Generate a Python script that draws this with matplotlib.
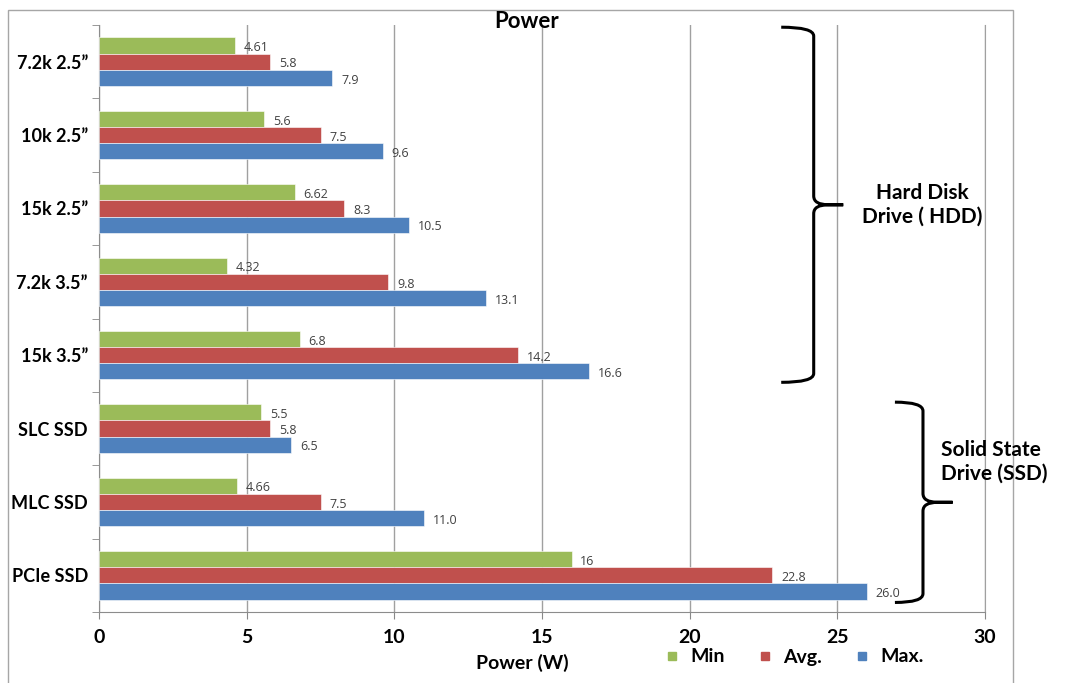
import numpy as np
import matplotlib.pyplot as plt
from matplotlib.path import Path
from matplotlib.patches import PathPatch, Rectangle
from matplotlib.lines import Line2D

plt.rcParams['font.family'] = ['Lato', 'DejaVu Sans']

categories = ['7.2k 2.5\u201d', '10k 2.5\u201d', '15k 2.5\u201d', '7.2k 3.5\u201d', '15k 3.5\u201d',
              'SLC SSD', 'MLC SSD', 'PCIe SSD']
min_vals = [4.61, 5.6, 6.62, 4.32, 6.8, 5.5, 4.66, 16]
avg_vals = [5.8, 7.5, 8.3, 9.8, 14.2, 5.8, 7.5, 22.8]
max_vals = [7.9, 9.6, 10.5, 13.1, 16.6, 6.5, 11.0, 26.0]
min_txt = ['4.61', '5.6', '6.62', '4.32', '6.8', '5.5', '4.66', '16']
avg_txt = ['5.8', '7.5', '8.3', '9.8', '14.2', '5.8', '7.5', '22.8']
max_txt = ['7.9', '9.6', '10.5', '13.1', '16.6', '6.5', '11.0', '26.0']

series = [('Min', min_vals, min_txt, '#9BBB59'),
          ('Avg.', avg_vals, avg_txt, '#C0504D'),
          ('Max.', max_vals, max_txt, '#4F81BD')]

fig = plt.figure(figsize=(10.68, 6.83), dpi=100)
ax = fig.add_axes([99 / 1068, 1 - 612 / 683, 886 / 1068, 587 / 683])

# outer frame
fig.patches.append(Rectangle((8 / 1068, -0.01), 1005 / 1068, 1 - 10 / 683 + 0.01,
                             transform=fig.transFigure, fill=False, ec='#A6A6A6', lw=1))

n = len(categories)
y = np.arange(n)[::-1]
h = 0.22
for k, (name, vals, txt, col) in enumerate(series):
    yy = y + h * (1 - k)
    ax.barh(yy, vals, height=h, color=col, edgecolor='white', linewidth=0.4, zorder=3)
    for yi, v, t in zip(yy, vals, txt):
        ax.text(v + 0.3, yi - 0.03, t, va='center', ha='left', fontsize=9,
                color='#404040', family=['Open Sans', 'DejaVu Sans'], zorder=4)

ax.set_xlim(0, 30)
ax.set_ylim(-0.5, 7.5)
ax.set_xticks([0, 5, 10, 15, 20, 25, 30])
ax.set_xticklabels(['0', '5', '10', '15', '20', '25', '30'], fontsize=14, fontweight='bold')
ax.set_yticks(y)
ax.set_yticklabels(categories, fontsize=13, fontweight='bold')
ax.set_yticks(np.arange(-0.5, 8, 1), minor=True)
ax.tick_params(axis='y', which='major', length=0, pad=8)
ax.tick_params(axis='y', which='minor', length=5, color='#888888')
ax.tick_params(axis='x', length=5, color='#888888', pad=7)
ax.grid(axis='x', color='#A0A0A0', lw=1, zorder=0)
ax.spines['top'].set_visible(False)
ax.spines['right'].set_color('#A0A0A0')
for s in ['left', 'bottom']:
    ax.spines[s].set_color('#8C8C8C')

fig.text(527 / 1068, 1 - 22 / 683, 'Power', ha='center', va='center', fontsize=16, fontweight='bold')
fig.text(522 / 1068, 1 - 663 / 683, 'Power (W)', ha='center', va='center', fontsize=14, fontweight='bold')

handles = [Line2D([], [], marker='s', ls='', color=c, markersize=6) for _, _, _, c in series]
fig.legend(handles, [s[0] for s in series], loc='center', bbox_to_anchor=(793 / 1068, 1 - 657 / 683),
           ncol=3, frameon=False, handletextpad=0.4, columnspacing=1.6, handlelength=1.0,
           prop={'weight': 'bold', 'size': 14})


def brace(ax, x, y0, y1, w, tip):
    ym = (y0 + y1) / 2
    r = 0.12
    verts = [(x - w, y1), (x, y1), (x, y1 - r), (x, ym + r),
             (x, ym), (x + tip * 0.5, ym), (x + tip, ym),
             (x + tip * 0.5, ym), (x, ym), (x, ym - r),
             (x, y0 + r), (x, y0), (x - w, y0)]
    codes = [Path.MOVETO, Path.CURVE3, Path.CURVE3, Path.LINETO,
             Path.CURVE3, Path.CURVE3, Path.LINETO,
             Path.LINETO, Path.CURVE3, Path.CURVE3,
             Path.LINETO, Path.CURVE3, Path.CURVE3]
    ax.add_patch(PathPatch(Path(verts, codes), fill=False, lw=2.2, ec='black',
                           clip_on=False, zorder=5))


brace(ax, 24.2, 2.63, 7.47, 1.1, 1.0)
brace(ax, 27.9, -0.37, 2.36, 0.95, 1.0)

fig.text(922 / 1068, 1 - 205 / 683, 'Hard Disk\nDrive ( HDD)', ha='center', va='center',
         fontsize=15, fontweight='bold', linespacing=1.25)
fig.text(941 / 1068, 1 - 462 / 683, 'Solid State\nDrive (SSD)', ha='left', va='center',
         fontsize=15, fontweight='bold', linespacing=1.25)

fig.savefig('out.png', dpi=100)
